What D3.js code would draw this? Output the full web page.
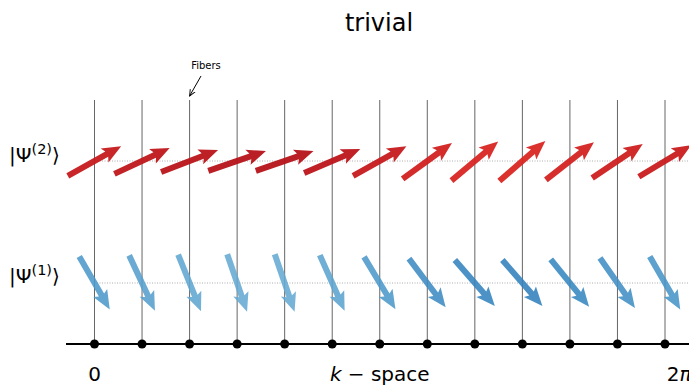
<!DOCTYPE html>
<html>
<head>
<meta charset="utf-8">
<script src="https://cdn.jsdelivr.net/npm/d3@7"></script>
<style>
  body { margin: 0; background: #fff; }
  text { font-family: "DejaVu Sans", sans-serif; }
</style>
</head>
<body>
<div id="chart"></div>
<script>
// fibers along k (index), arrow angles in degrees
var fibers = [0, 1, 2, 3, 4, 5, 6, 7, 8, 9, 10, 11, 12];
var psi2Angle = [29, 25, 21, 19, 19, 23, 29, 36, 40, 41, 38, 34, 31];
var psi1Angle = [-60, -65, -68, -71, -71, -66, -59, -53, -49, -49, -51, -55, -60];
var tickLabels = ["0", "k − space", "2π"];
var tickPos = [0, 6, 12.3];
var levels = [1, 3];   // psi1, psi2 rows

var W = 689, H = 385;
var svg = d3.select("#chart").append("svg")
  .attr("width", W).attr("height", H);

var x = d3.scaleLinear().domain([0, 12]).range([94.5, 665]);
var y = d3.scaleLinear().domain([0, 4]).range([344, 100]);

// title
svg.append("text")
  .attr("x", 379).attr("y", 31)
  .attr("text-anchor", "middle")
  .style("font-size", "24px")
  .text("trivial");

// fibers
svg.selectAll("line.fiber").data(fibers).enter().append("line")
  .attr("class", "fiber")
  .attr("x1", function(d) { return x(d); })
  .attr("x2", function(d) { return x(d); })
  .attr("y1", y(4)).attr("y2", y(0))
  .attr("stroke", "#666").attr("stroke-width", 1);

// dotted reference lines
svg.selectAll("line.level").data(levels).enter().append("line")
  .attr("class", "level")
  .attr("x1", x(0)).attr("x2", W)
  .attr("y1", function(d) { return y(d); })
  .attr("y2", function(d) { return y(d); })
  .attr("stroke", "#999").attr("stroke-width", 0.8)
  .attr("stroke-dasharray", "1,1.5");

// k axis
svg.append("line")
  .attr("x1", 66).attr("x2", W)
  .attr("y1", y(0)).attr("y2", y(0))
  .attr("stroke", "#000").attr("stroke-width", 2);

svg.selectAll("circle.pt").data(fibers).enter().append("circle")
  .attr("class", "pt")
  .attr("cx", function(d) { return x(d); })
  .attr("cy", y(0))
  .attr("r", 4.5)
  .attr("fill", "#000");

// arrow shape, centred at the pivot
function arrowPath(L) {
  var w = 3, hw = 8, hl = 19, ha = 16.5;
  var t = L / 2;
  return "M" + (-t) + "," + (-w) +
    "L" + (t - ha) + "," + (-w) +
    "L" + (t - hl) + "," + (-hw) +
    "L" + t + ",0" +
    "L" + (t - hl) + "," + hw +
    "L" + (t - ha) + "," + w +
    "L" + (-t) + "," + w + "Z";
}

var redT = d3.scaleLinear().domain([19, 41]).range([0.82, 0.7]);
var blueT = d3.scaleLinear().domain([19, 41]).range([0.52, 0.69]);

svg.selectAll("path.psi2").data(fibers).enter().append("path")
  .attr("class", "psi2")
  .attr("d", arrowPath(61))
  .attr("transform", function(d, i) {
    return "translate(" + x(d) + "," + y(3) + ") rotate(" + (-psi2Angle[i]) + ")";
  })
  .attr("fill", function(d, i) { return d3.interpolateReds(redT(psi2Angle[i])); })
  .attr("fill-opacity", 0.95);

svg.selectAll("path.psi1").data(fibers).enter().append("path")
  .attr("class", "psi1")
  .attr("d", arrowPath(61))
  .attr("transform", function(d, i) {
    return "translate(" + x(d) + "," + y(1) + ") rotate(" + (-psi1Angle[i]) + ")";
  })
  .attr("fill", function(d, i) { return d3.interpolateBlues(blueT(psi2Angle[i])); })
  .attr("fill-opacity", 0.88);

// state labels
function stateLabel(n, yy) {
  var t = svg.append("text")
    .attr("x", 9).attr("y", yy)
    .style("font-size", "20px");
  t.append("tspan").text("|Ψ");
  t.append("tspan").attr("dy", -8).style("font-size", "14.5px").text("(" + n + ")");
  t.append("tspan").attr("dy", 8).text("⟩");
}
stateLabel(2, 162);
stateLabel(1, 283);

// tick labels
svg.selectAll("text.tick").data(tickLabels).enter().append("text")
  .attr("class", "tick")
  .attr("x", function(d, i) { return x(tickPos[i]); })
  .attr("y", 381)
  .attr("text-anchor", "middle")
  .style("font-size", "20px")
  .each(function(d) {
    var el = d3.select(this);
    if (d == "k − space") {
      el.append("tspan").style("font-style", "italic").text("k");
      el.append("tspan").text(" − space");
    } else if (d == "2π") {
      el.append("tspan").text("2");
      el.append("tspan").style("font-style", "italic").text("π");
    } else {
      el.text(d);
    }
  });

// annotation
svg.append("defs").append("marker")
  .attr("id", "open")
  .attr("viewBox", "0 0 10 10")
  .attr("refX", 9).attr("refY", 5)
  .attr("markerWidth", 7).attr("markerHeight", 7)
  .attr("orient", "auto")
  .append("path")
  .attr("d", "M0,1L9,5L0,9")
  .attr("fill", "none").attr("stroke", "#000").attr("stroke-width", 1.3);

svg.append("text")
  .attr("x", 206).attr("y", 69)
  .attr("text-anchor", "middle")
  .style("font-size", "10px")
  .text("Fibers");

svg.append("line")
  .attr("x1", 201).attr("y1", 76)
  .attr("x2", x(2)).attr("y2", 96)
  .attr("stroke", "#000").attr("stroke-width", 1)
  .attr("marker-end", "url(#open)");
</script>
</body>
</html>
